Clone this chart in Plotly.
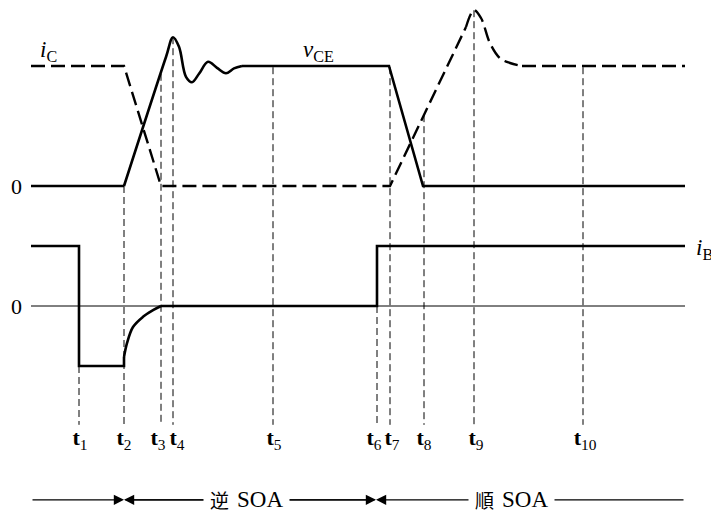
import plotly.graph_objects as go

# ---- data (time in arbitrary units, signal levels in arbitrary units) ----
TOP = 2.0  # vertical offset of upper panel (i_C / v_CE)

vce_t = [31, 124, 166, 173, 179, 186, 192, 199, 208, 217, 226, 234, 242, 389, 423, 685]
vce_v = [0, 0, 2.15, 2.48, 2.32, 1.82, 1.73, 1.87, 2.07, 1.97, 1.88, 1.96, 2.0, 2.0, 0, 0]

ic_t = [31, 124, 161, 390, 466, 474, 481, 490, 500, 510, 522, 685]
ic_v = [2, 2, 0, 0, 2.65, 2.93, 2.8, 2.38, 2.13, 2.05, 2.0, 2.0]

ib_t = [31, 79, 79, 124, 124, 127, 133, 143, 153, 161, 377, 377, 685]
ib_v = [1, 1, -1, -1, -0.85, -0.62, -0.35, -0.18, -0.07, 0, 0, 1, 1]

t_names = ["<b>t</b><sub>1</sub>", "<b>t</b><sub>2</sub>", "<b>t</b><sub>3</sub>",
           "<b>t</b><sub>4</sub>", "<b>t</b><sub>5</sub>", "<b>t</b><sub>6</sub>",
           "<b>t</b><sub>7</sub>", "<b>t</b><sub>8</sub>", "<b>t</b><sub>9</sub>",
           "<b>t</b><sub>10</sub>"]
t_pos = [79, 124, 161, 173, 273, 377, 390, 424, 474, 583]
t_label_x = [80, 124, 158, 177, 274, 374, 392, 424, 476, 585]
guide_top = [-1, 2.0, 3.87, 4.48, 3.98, 0, 3.98, 3.18, 4.93, 3.98]
guide_bottom = -1.98
label_y = -2.23

soa_y = -3.23
soa_bounds = [31, 124, 376, 685]
soa_kanji = ["逆", "順"]
soa_kanji_x = [219, 484]
soa_word = "SOA"
soa_word_x = [260, 525]

SERIF = "Liberation Serif, Times New Roman, DejaVu Serif, Noto Sans CJK JP, serif"
CJK = "Noto Sans CJK JP"

fig = go.Figure()

def seg(x, y, shape="linear", dash="solid", width=2.6):
    fig.add_trace(go.Scatter(x=x, y=y, mode="lines", hoverinfo="skip", showlegend=False,
                             line=dict(color="black", width=width, dash=dash, shape=shape,
                                       smoothing=1.0 if shape == "spline" else None)))

# thin zero baseline of the lower panel
seg([ib_t[0], ib_t[-1]], [0, 0], width=1)

# guide lines
gx, gy = [], []
for t, top in zip(t_pos, guide_top):
    gx += [t, t, None]
    gy += [top, guide_bottom, None]
fig.add_trace(go.Scatter(x=gx, y=gy, mode="lines", hoverinfo="skip", showlegend=False,
                         line=dict(color="black", width=1, dash="7px,4px")))

# i_C (dashed)
icv = [v + TOP for v in ic_v]
IC_DASH = "14px,6px"
seg(ic_t[0:5], icv[0:5], dash=IC_DASH, width=2.4)
seg(ic_t[4:11], icv[4:11], shape="spline", dash=IC_DASH, width=2.4)
seg(ic_t[10:], icv[10:], dash=IC_DASH, width=2.4)

# v_CE (solid)
vcv = [v + TOP for v in vce_v]
seg(vce_t[0:2], vcv[0:2])
seg(vce_t[1:13], vcv[1:13], shape="spline")
seg(vce_t[12:], vcv[12:])

# i_B (solid)
seg(ib_t[0:5], ib_v[0:5])
seg(ib_t[4:10], ib_v[4:10], shape="spline")
seg(ib_t[9:], ib_v[9:])

# time labels
fig.add_trace(go.Scatter(x=t_label_x, y=[label_y] * len(t_pos), mode="text", text=t_names,
                         textposition="middle center", hoverinfo="skip", showlegend=False,
                         textfont=dict(family=SERIF, size=22, color="black")))

BLACK = "black"
ann = []
# zero labels and signal names
ann.append(dict(x=16, y=TOP, text="0", showarrow=False, font=dict(family=SERIF, size=22, color=BLACK)))
ann.append(dict(x=16, y=0, text="0", showarrow=False, font=dict(family=SERIF, size=22, color=BLACK)))
ann.append(dict(x=48, y=TOP + 2.25, text="<i>i</i><sub>C</sub>", showarrow=False,
                font=dict(family=SERIF, size=23, color=BLACK)))
ann.append(dict(x=318, y=TOP + 2.25, text="<i>v</i><sub>CE</sub>", showarrow=False,
                font=dict(family=SERIF, size=23, color=BLACK)))
ann.append(dict(x=694, y=0.95, text="<i>i</i><sub>B</sub>", showarrow=False, xanchor="left",
                font=dict(family=SERIF, size=23, color=BLACK)))

# SOA arrows
def arrow(head, tail):
    ann.append(dict(x=head, y=soa_y, ax=tail, ay=soa_y, xref="x", yref="y", axref="x", ayref="y",
                    text="", showarrow=True, arrowhead=2, arrowsize=1.7, arrowwidth=1.2,
                    arrowcolor="black", standoff=0, startstandoff=0))

arrow(soa_bounds[1], soa_bounds[0])
arrow(soa_bounds[1], soa_bounds[2])
arrow(soa_bounds[2], soa_bounds[1])
arrow(soa_bounds[2], soa_bounds[3])

for kx, kj, wx in zip(soa_kanji_x, soa_kanji, soa_word_x):
    ann.append(dict(x=wx, y=soa_y, text=soa_word, showarrow=False, bgcolor="white", borderpad=6,
                    font=dict(family=SERIF, size=23, color=BLACK)))
    ann.append(dict(x=kx, y=soa_y, text=kj, showarrow=False, bgcolor="white", borderpad=6,
                    font=dict(family=CJK, size=19, color=BLACK)))

fig.update_layout(
    width=711, height=518, margin=dict(l=0, r=0, t=0, b=0),
    paper_bgcolor="white", plot_bgcolor="white",
    font=dict(family=SERIF, color=BLACK),
    xaxis=dict(range=[0, 711], visible=False, fixedrange=True),
    yaxis=dict(range=[-3.533, 5.1], visible=False, fixedrange=True),
    annotations=ann,
    showlegend=False,
)

fig.write_html("out.html", config={"displayModeBar": False},
               post_script="document.body.style.margin='0px';")
